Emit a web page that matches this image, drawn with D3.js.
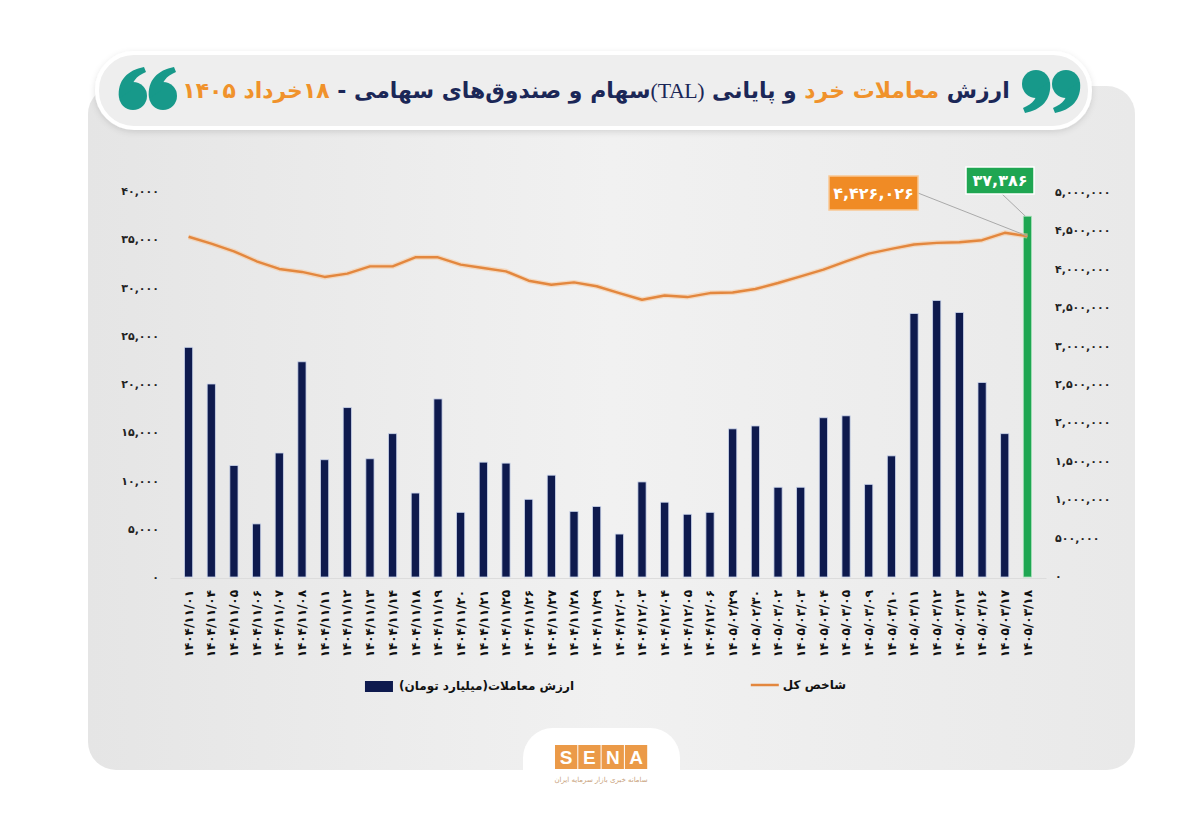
<!DOCTYPE html>
<html>
<head>
<meta charset="utf-8">
<script src="https://cdn.jsdelivr.net/npm/d3@7"></script>
<style>
  body { margin: 0; background: #fff; }
  #wrap { position: relative; width: 1200px; height: 827px; overflow: hidden; }
  #title {
    position: absolute; left: 180px; top: 70px; width: 832px; height: 42px;
    direction: rtl; text-align: center; white-space: nowrap;
    font-family: "DejaVu Sans", sans-serif; font-weight: bold; font-size: 25px;
    line-height: 42px; letter-spacing: -0.5px;
  }
  #title .n { color: #1b2757; }
  #title .o { color: #f0922b; }
  #title .tal { color: #1b2757; font-family: "Liberation Serif", serif; font-weight: normal; }
  svg text { font-family: "DejaVu Sans", sans-serif; }
</style>
</head>
<body>
<div id="wrap">
  <svg id="chart" width="1200" height="827"></svg>
  <div id="title"><span class="n">ارزش </span><span class="o">معاملات خرد </span><span class="n">و پایانی </span><span class="tal">(TAL)</span><span class="n">سهام و صندوق‌های سهامی - </span><span class="o">۱۸خرداد ۱۴۰۵</span></div>
</div>
<script>
// dates (Persian calendar)
const dates = [
  "۱۴۰۴/۱۱/۰۱", "۱۴۰۴/۱۱/۰۴", "۱۴۰۴/۱۱/۰۵", "۱۴۰۴/۱۱/۰۶", "۱۴۰۴/۱۱/۰۷", "۱۴۰۴/۱۱/۰۸",
  "۱۴۰۴/۱۱/۱۱", "۱۴۰۴/۱۱/۱۲", "۱۴۰۴/۱۱/۱۳", "۱۴۰۴/۱۱/۱۴", "۱۴۰۴/۱۱/۱۸", "۱۴۰۴/۱۱/۱۹",
  "۱۴۰۴/۱۱/۲۰", "۱۴۰۴/۱۱/۲۱", "۱۴۰۴/۱۱/۲۵", "۱۴۰۴/۱۱/۲۶", "۱۴۰۴/۱۱/۲۷", "۱۴۰۴/۱۱/۲۸",
  "۱۴۰۴/۱۱/۲۹", "۱۴۰۴/۱۲/۰۲", "۱۴۰۴/۱۲/۰۳", "۱۴۰۴/۱۲/۰۴", "۱۴۰۴/۱۲/۰۵", "۱۴۰۴/۱۲/۰۶",
  "۱۴۰۵/۰۲/۲۹", "۱۴۰۵/۰۲/۳۰", "۱۴۰۵/۰۳/۰۲", "۱۴۰۵/۰۳/۰۳", "۱۴۰۵/۰۳/۰۴", "۱۴۰۵/۰۳/۰۵",
  "۱۴۰۵/۰۳/۰۹", "۱۴۰۵/۰۳/۱۰", "۱۴۰۵/۰۳/۱۱", "۱۴۰۵/۰۳/۱۲", "۱۴۰۵/۰۳/۱۳", "۱۴۰۵/۰۳/۱۶",
  "۱۴۰۵/۰۳/۱۷", "۱۴۰۵/۰۳/۱۸"
];

// trade value, billion toman (bars, left axis)
const tradeValue = [
  23800, 20000, 11550, 5500, 12850, 22300, 12150, 17550, 12250, 14850, 8700, 18450,
  6700, 11900, 11800, 8050, 10550, 6800, 7300, 4450, 9850, 7750, 6500, 6700,
  15350, 15650, 9300, 9300, 16500, 16700, 9600, 12550, 27300, 28650, 27400, 20150,
  14850, 37386
];

// total index (line, right axis)
const indexValue = [
  4417000, 4329000, 4228000, 4098000, 3998000, 3959000, 3894000, 3937000, 4032000, 4032000,
  4150000, 4150000, 4054000, 4011000, 3967000, 3845000, 3793000, 3823000, 3773000, 3684000,
  3597000, 3653000, 3632000, 3684000, 3692000, 3737000, 3815000, 3901000, 3989000, 4098000,
  4198000, 4260000, 4316000, 4338000, 4346000, 4372000, 4469000, 4426026
];

const leftTicks = d3.range(0, 40001, 5000);
const rightTicks = d3.range(0, 5000001, 500000);

const legendBars = "ارزش معاملات(میلیارد تومان)";
const legendLine = "شاخص کل";

const NAVY = "#0e1a4e";
const ORANGE = "#e3873e";
const GREEN = "#1fa652";
const TEAL = "#17998a";

const faDigits = "۰۱۲۳۴۵۶۷۸۹";
const fa = s => String(s).replace(/\d/g, d => faDigits[d]);
const faNum = v => fa(d3.format(",")(v));

const svg = d3.select("#chart");
const defs = svg.append("defs");

const grad = defs.append("linearGradient").attr("id", "panelGrad")
    .attr("x1", 0).attr("x2", 1).attr("y1", 0).attr("y2", 0);
grad.append("stop").attr("offset", "0%").attr("stop-color", "#e5e5e5");
grad.append("stop").attr("offset", "50%").attr("stop-color", "#f1f1f1");
grad.append("stop").attr("offset", "100%").attr("stop-color", "#e9e9e9");

const shadow = defs.append("filter").attr("id", "shadow")
    .attr("x", "-5%").attr("y", "-20%").attr("width", "110%").attr("height", "150%");
shadow.append("feDropShadow").attr("dx", 0).attr("dy", 2).attr("stdDeviation", 3)
    .attr("flood-color", "#000").attr("flood-opacity", 0.12);

// background panel
svg.append("rect")
    .attr("x", 88).attr("y", 86).attr("width", 1047).attr("height", 684)
    .attr("rx", 28)
    .attr("fill", "url(#panelGrad)");

// header pill
svg.append("rect")
    .attr("x", 97).attr("y", 53).attr("width", 993).attr("height", 75)
    .attr("rx", 37)
    .attr("fill", "#eeeeee")
    .attr("stroke", "#fff").attr("stroke-width", 4)
    .attr("filter", "url(#shadow)");

// quote marks, drawn as "6" shapes (rotated for "9")
function quoteGlyph(cx, cy, angle) {
  const g = svg.append("g")
      .attr("transform", `translate(${cx},${cy}) rotate(${angle})`)
      .attr("fill", TEAL);
  g.append("circle").attr("r", 14);
  g.append("path")
      .attr("d", "M-14,2 C-16,-16 -5,-26 11,-29 L13,-24 C3,-20 -2,-13 -1,-6 Z");
}
quoteGlyph(133, 96, 0);
quoteGlyph(163, 96, 0);
quoteGlyph(1036, 84, 180);
quoteGlyph(1066, 84, 180);

// bottom tab for logo
svg.append("rect")
    .attr("x", 523).attr("y", 728).attr("width", 157).attr("height", 80)
    .attr("rx", 30).attr("fill", "#fff");

// scales
const x = d3.scaleBand()
    .domain(dates)
    .range([170, 1046])
    .padding(0.64);

const yL = d3.scaleLinear().domain([0, 40000]).range([577, 191]);
const yR = d3.scaleLinear().domain([0, 5000000]).range([576, 192]);

// axes
const axisL = svg.append("g")
    .attr("transform", "translate(163,0)")
    .call(d3.axisLeft(yL).tickValues(leftTicks).tickSize(0).tickPadding(4).tickFormat(faNum));

const axisR = svg.append("g")
    .attr("transform", "translate(1051,0)")
    .call(d3.axisRight(yR).tickValues(rightTicks).tickSize(0).tickPadding(4).tickFormat(faNum));

[axisL, axisR].forEach(a => {
  a.select(".domain").remove();
  a.selectAll("text")
      .style("font-family", "DejaVu Sans, sans-serif")
      .style("font-weight", "bold")
      .style("font-size", "11px")
      .attr("fill", "#222");
});

// x labels
const axisX = svg.append("g")
    .attr("transform", "translate(0,578)")
    .call(d3.axisBottom(x).tickSize(0).tickPadding(0));

axisX.select(".domain").attr("stroke", "#dcdcdc");
axisX.selectAll("text")
    .attr("transform", "translate(0,12) rotate(-90)")
    .attr("x", 0).attr("y", 0)
    .attr("dy", "0.35em")
    .attr("text-anchor", "end")
    .style("font-family", "DejaVu Sans, sans-serif")
    .style("font-weight", "bold")
    .style("font-size", "12px")
    .attr("fill", "#111");

// bars
const last = dates.length - 1;

svg.append("g")
  .selectAll("rect")
  .data(tradeValue)
  .join("rect")
    .attr("x", (d, i) => x(dates[i]))
    .attr("y", d => yL(d))
    .attr("width", x.bandwidth())
    .attr("height", d => yL(0) - yL(d))
    .attr("fill", (d, i) => i === last ? GREEN : NAVY)
    .attr("stroke", (d, i) => i === last ? "#a8e2b9" : "#c9d3ea")
    .attr("stroke-width", 0.8);

// index line
const line = d3.line()
    .x((d, i) => x(dates[i]) + x.bandwidth() / 2)
    .y(d => yR(d));

svg.append("path")
    .datum(indexValue)
    .attr("fill", "none")
    .attr("stroke", "#f7c9a0")
    .attr("stroke-width", 5)
    .attr("stroke-opacity", 0.6)
    .attr("stroke-linejoin", "round")
    .attr("d", line);

svg.append("path")
    .datum(indexValue)
    .attr("fill", "none")
    .attr("stroke", ORANGE)
    .attr("stroke-width", 2.4)
    .attr("stroke-linejoin", "round")
    .attr("d", line);

// annotations
const lastX = x(dates[last]) + x.bandwidth() / 2;

svg.append("line")
    .attr("x1", 918).attr("y1", 193)
    .attr("x2", lastX).attr("y2", yR(indexValue[last]))
    .attr("stroke", "#a9a9a9").attr("stroke-width", 1);

svg.append("line")
    .attr("x1", 1002).attr("y1", 194)
    .attr("x2", lastX - 2).attr("y2", yL(tradeValue[last]))
    .attr("stroke", "#a9a9a9").attr("stroke-width", 1);

svg.append("rect")
    .attr("x", 829).attr("y", 176).attr("width", 89).attr("height", 34)
    .attr("fill", "#f08b25").attr("stroke", "#f9c894").attr("stroke-width", 1.5);

svg.append("text")
    .attr("x", 873.5).attr("y", 193).attr("dy", "0.36em")
    .attr("text-anchor", "middle")
    .style("font-weight", "bold").style("font-size", "16px")
    .attr("fill", "#fff")
    .text(faNum(indexValue[last]));

svg.append("rect")
    .attr("x", 966).attr("y", 167).attr("width", 68).attr("height", 27)
    .attr("fill", GREEN).attr("stroke", "#fff").attr("stroke-width", 1.5);

svg.append("text")
    .attr("x", 1000).attr("y", 180.5).attr("dy", "0.36em")
    .attr("text-anchor", "middle")
    .style("font-weight", "bold").style("font-size", "16px")
    .attr("fill", "#fff")
    .text(faNum(tradeValue[last]));

// legend: text right-aligned, marker placed just left of the text
const legend = svg.append("g");

const lt1 = legend.append("text")
    .attr("x", 574).attr("y", 686).attr("dy", "0.35em")
    .attr("text-anchor", "end")
    .style("font-weight", "bold").style("font-size", "12px")
    .attr("fill", "#111")
    .text(legendBars);
const lt1Left = 574 - lt1.node().getComputedTextLength();

legend.append("rect")
    .attr("x", Math.min(383, lt1Left - 34)).attr("y", 681).attr("width", 28).attr("height", 11)
    .attr("fill", NAVY);

const lt2 = legend.append("text")
    .attr("x", 846).attr("y", 685).attr("dy", "0.35em")
    .attr("text-anchor", "end")
    .style("font-weight", "bold").style("font-size", "12px")
    .attr("fill", "#111")
    .text(legendLine);
const lt2Left = 846 - lt2.node().getComputedTextLength();

legend.append("line")
    .attr("x1", lt2Left - 32).attr("x2", lt2Left - 4).attr("y1", 685).attr("y2", 685)
    .attr("stroke", ORANGE).attr("stroke-width", 2.5);

// SENA logo
const logo = svg.append("g");
"SENA".split("").forEach((c, i) => {
  logo.append("rect")
      .attr("x", 555 + i * 23.3).attr("y", 745).attr("width", 22.3).attr("height", 24)
      .attr("fill", "#eb9a48");
  logo.append("text")
      .attr("x", 555 + i * 23.3 + 11.15).attr("y", 757).attr("dy", "0.36em")
      .attr("text-anchor", "middle")
      .style("font-family", "Liberation Sans, sans-serif")
      .style("font-weight", "bold").style("font-size", "19px")
      .attr("fill", "#fff")
      .text(c);
});
logo.append("text")
    .attr("x", 601).attr("y", 782)
    .attr("text-anchor", "middle")
    .style("font-size", "7px")
    .attr("fill", "#c8a27c")
    .text("سامانه خبری بازار سرمایه ایران");

// fit title to its box
const t = document.getElementById("title");
const inner = document.createElement("span");
while (t.firstChild) inner.appendChild(t.firstChild);
t.appendChild(inner);
const w = inner.getBoundingClientRect().width;
if (w > 0) {
  const fs = 25 * 828 / w;
  t.style.fontSize = Math.min(fs, 30) + "px";
}
</script>
</body>
</html>
